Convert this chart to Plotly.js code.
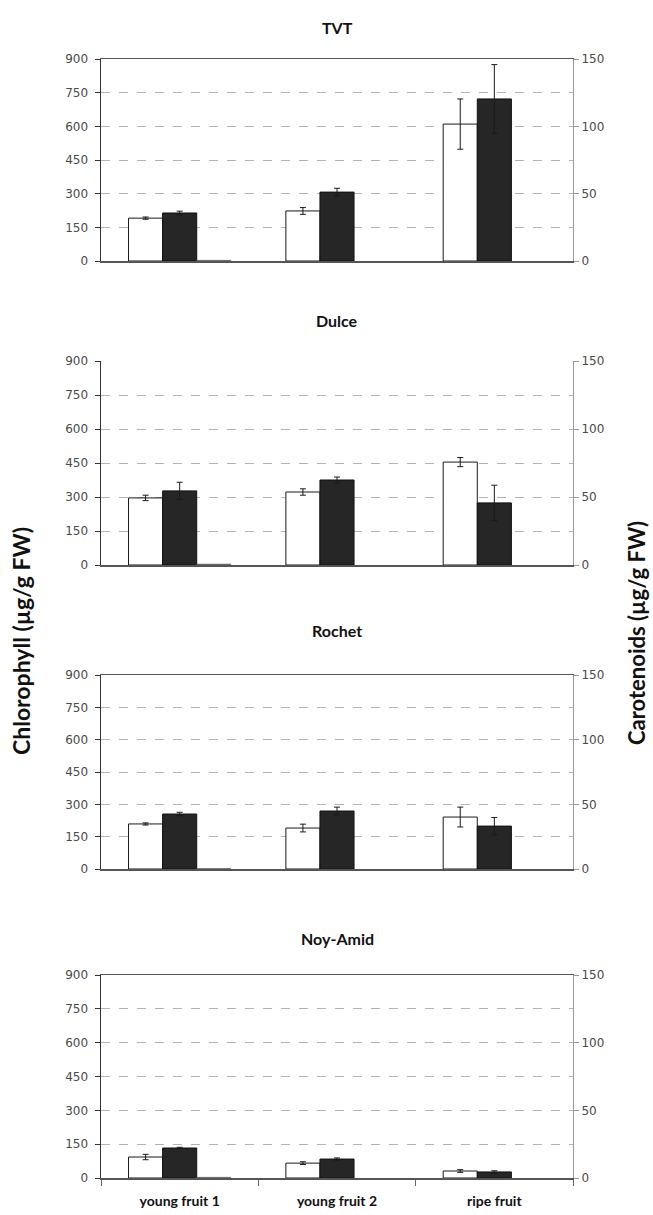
<!DOCTYPE html>
<html>
<head>
<meta charset="utf-8">
<script src="https://cdn.plot.ly/plotly-3.0.1.min.js"></script>
<style>html,body{margin:0;padding:0;background:#fff;}#chart{width:653px;height:1215px;}</style>
</head>
<body>
<div id="chart"></div>
<script>
// ---- data ----
const categories = ['young fruit 1', 'young fruit 2', 'ripe fruit'];
const cultivars = ['TVT', 'Dulce', 'Rochet', 'Noy-Amid'];

const whiteTVT = [191, 223, 610];
const whiteDulce = [296, 322, 454];
const whiteRochet = [209, 190, 241];
const whiteNoy = [93, 66, 31];

const whiteErrTVT = [5, 15, 112];
const whiteErrDulce = [12, 14, 20];
const whiteErrRochet = [5, 18, 46];
const whiteErrNoy = [12, 6, 6];

const darkTVT = [214, 307, 722];
const darkDulce = [327, 375, 274];
const darkRochet = [255, 269, 199];
const darkNoy = [133, 84, 27];

const darkErrTVT = [8, 17, 153];
const darkErrDulce = [38, 13, 78];
const darkErrRochet = [8, 18, 40];
const darkErrNoy = [3, 5, 5];

const thirdTVT = [3, null, null];
const thirdDulce = [4, null, null];
const thirdRochet = [2, null, null];
const thirdNoy = [3, null, null];

const leftTicks = [0, 150, 300, 450, 600, 750, 900];
const gridTicks = [150, 300, 450, 600, 750];
const rightTicks = [0, 50, 100, 150];

// ---- layout geometry (pixels) ----
const W = 653, H = 1215;
const plotLeft = 101, plotRight = 573;
const panels = [
  {top: 59, bottom: 261, title: 28, topLine: true},
  {top: 361, bottom: 565, title: 321, topLine: false},
  {top: 675, bottom: 869, title: 630, topLine: true},
  {top: 975, bottom: 1178, title: 938, topLine: true}
];
const whiteSets = [whiteTVT, whiteDulce, whiteRochet, whiteNoy];
const whiteErrSets = [whiteErrTVT, whiteErrDulce, whiteErrRochet, whiteErrNoy];
const darkSets = [darkTVT, darkDulce, darkRochet, darkNoy];
const darkErrSets = [darkErrTVT, darkErrDulce, darkErrRochet, darkErrNoy];
const thirdSets = [thirdTVT, thirdDulce, thirdRochet, thirdNoy];

const tickFont = {family: 'DejaVu Sans, sans-serif', size: 12, color: '#4a4a4a'};
const data = [];
const layout = {
  width: W, height: H,
  margin: {l: 0, r: 0, t: 0, b: 0},
  paper_bgcolor: '#fff', plot_bgcolor: '#fff',
  showlegend: false,
  barmode: 'group', bargap: 0.35, bargroupgap: 0,
  annotations: []
};

panels.forEach((p, i) => {
  const n = i + 1;
  const xa = n === 1 ? 'x' : 'x' + n;
  const ya = n === 1 ? 'y' : 'y' + n;
  const yr = 'y' + (n + 4);
  const dom = [1 - p.bottom / H, 1 - p.top / H];
  const last = i === panels.length - 1;

  data.push({
    type: 'bar', x: categories, y: whiteSets[i], xaxis: xa, yaxis: ya,
    marker: {color: '#ffffff', line: {color: '#1a1a1a', width: 1}},
    error_y: {type: 'data', array: whiteErrSets[i], visible: true, color: '#1a1a1a', thickness: 1, width: 3},
    hoverinfo: 'y'
  });
  data.push({
    type: 'bar', x: categories, y: darkSets[i], xaxis: xa, yaxis: ya,
    marker: {color: '#262626', line: {color: '#111', width: 1}},
    error_y: {type: 'data', array: darkErrSets[i], visible: true, color: '#1a1a1a', thickness: 1, width: 3},
    hoverinfo: 'y'
  });
  data.push({
    type: 'bar', x: categories, y: thirdSets[i], xaxis: xa, yaxis: ya,
    marker: {color: '#777', line: {color: '#555', width: 0.5}},
    hoverinfo: 'y'
  });
  // empty trace so the right (carotenoid) axis is drawn
  data.push({type: 'scatter', x: [], y: [], xaxis: xa, yaxis: yr, hoverinfo: 'skip'});

  layout['xaxis' + (n === 1 ? '' : n)] = {
    domain: [plotLeft / W, plotRight / W], anchor: ya,
    type: 'category',
    showline: true, linecolor: '#555', linewidth: 1.5,
    mirror: p.topLine ? true : false,
    showgrid: false, zeroline: false,
    ticks: last ? 'outside' : '', tickson: 'boundaries', ticklen: 6, tickcolor: '#666',
    showticklabels: last, ticklabelstandoff: 10,
    tickfont: {family: 'Lato, sans-serif', size: 14, color: '#111', weight: 'bold'}
  };
  layout['yaxis' + (n === 1 ? '' : n)] = {
    domain: dom, anchor: xa,
    range: [0, 900], tickvals: leftTicks, ticktext: leftTicks.map(String),
    showline: true, linecolor: '#333', linewidth: 1.5,
    ticks: 'outside', ticklen: 5, tickcolor: '#333',
    showgrid: false,
    minor: {tickvals: gridTicks, showgrid: true, gridcolor: '#b3b3b3', gridwidth: 1, griddash: 'dash', ticks: ''},
    zeroline: false,
    ticklabelstandoff: 4,
    tickfont: tickFont
  };
  layout['yaxis' + (n + 4)] = {
    overlaying: ya, anchor: xa, side: 'right',
    range: [0, 150], tickvals: rightTicks, ticktext: rightTicks.map(String),
    showline: true, linecolor: '#999', linewidth: 1,
    ticks: 'outside', ticklen: 5, tickcolor: '#999',
    showgrid: false, zeroline: false,
    tickfont: tickFont
  };
  layout.annotations.push({
    xref: 'paper', yref: 'paper', x: 337 / W, y: 1 - p.title / H,
    xanchor: 'center', yanchor: 'middle', showarrow: false,
    text: '<b>' + cultivars[i] + '</b>',
    font: {family: 'Lato, sans-serif', size: 16, color: '#111'}
  });
});

layout.annotations.push({
  xref: 'paper', yref: 'paper', x: 21 / W, y: 1 - 641 / H,
  xanchor: 'center', yanchor: 'middle', showarrow: false, textangle: -90,
  text: '<b>Chlorophyll (µg/g FW)</b>',
  font: {family: 'Lato, sans-serif', size: 23, color: '#111'}
});
layout.annotations.push({
  xref: 'paper', yref: 'paper', x: 636 / W, y: 1 - 633 / H,
  xanchor: 'center', yanchor: 'middle', showarrow: false, textangle: -90,
  text: '<b>Carotenoids (µg/g FW)</b>',
  font: {family: 'Lato, sans-serif', size: 22, color: '#111'}
});

Plotly.newPlot('chart', data, layout, {displayModeBar: false, staticPlot: true});
</script>
</body>
</html>
